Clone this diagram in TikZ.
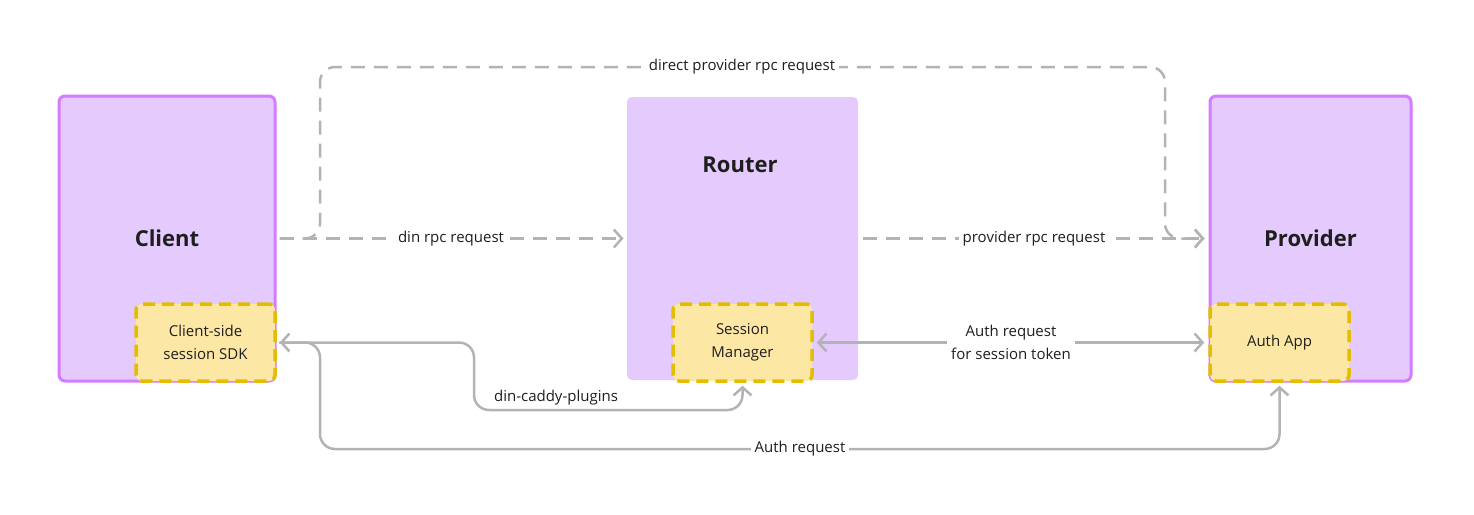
\documentclass[tikz,border=0pt]{standalone}
\usepackage{fontspec}
\setmainfont{Open Sans}
\usetikzlibrary{arrows.meta}

\definecolor{boxfill}{HTML}{E5CBFD}
\definecolor{boxedge}{HTML}{D47CFF}
\definecolor{subfill}{HTML}{FDE7A4}
\definecolor{subedge}{HTML}{E2BD00}
\definecolor{wire}{HTML}{B3B3B3}
\definecolor{ink}{HTML}{1E1E1E}

\begin{document}
\begin{tikzpicture}[x=1pt, y=-1pt,
    every node/.style={text=ink, font=\fontsize{15}{23}\selectfont},
    service/.style={draw=boxedge, line width=3pt, fill=boxfill, rounded corners=6pt,
        minimum width=216pt, minimum height=285pt, inner sep=0pt,
        font=\fontsize{22}{25}\selectfont\bfseries},
    plugin/.style={draw=subedge, line width=3.5pt, fill=subfill, rounded corners=6pt,
        dash pattern=on 12pt off 7pt, minimum width=139pt, minimum height=77pt,
        inner sep=0pt, align=center},
    wireline/.style={draw=wire, line width=2.5pt, line cap=round,
        arrows={-Straight Barb[length=8pt, width=18pt]}},
    dashline/.style={wireline, dash pattern=on 14pt off 9pt, line cap=butt},
    tag/.style={fill=white, inner sep=4pt}
]
    \useasboundingbox (0,0) rectangle (1474,514);

    % the three services
    \node[service] (client) at (167,238.5) {Client};
    \node[service, draw=none, minimum width=231pt, minimum height=283pt, rounded corners=5pt] (router) at (742.5,238.5) {};
    \node[font=\fontsize{22}{25}\selectfont\bfseries] (routertitle) at (740,165) {Router};
    \node[service, minimum width=201pt] (provider) at (1310.5,238.5) {Provider};

    % plugins inside them
    \node[plugin] (sdk) at (205.5,342.5) {Client-side\\session SDK};
    \node[plugin] (manager) at (742.5,342.5) {Session\\Manager};
    \node[plugin] (authapp) at (1279.5,342.5) {Auth App};

    % rpc traffic
    \draw[dashline, shorten <=3pt, shorten >=2pt] (client.east) -- (router.west)
        node[tag, midway] (dinrpc) {din rpc request};
    \draw[dashline, shorten <=3pt, shorten >=4pt] (router.east) -- (provider.west)
        node[tag, midway] (provrpc) {provider rpc request};
    \draw[dashline, rounded corners=15pt, shorten <=3pt, shorten >=4pt]
        (client.east) -| (320,67) -| (1165,238.5) -- (provider.west);
    \node[tag] (directrpc) at (742,67) {direct provider rpc request};

    % auth traffic
    \draw[wireline, arrows={Straight Barb[length=8pt, width=18pt]-Straight Barb[length=8pt, width=18pt]},
        shorten <=3pt, shorten >=4pt] (manager.east) -- (authapp.west)
        node[tag, midway, align=center] (tokenreq) {Auth request\\for session token};
    \draw[wireline, arrows={Straight Barb[length=8pt, width=18pt]-Straight Barb[length=8pt, width=18pt]},
        rounded corners=15pt, shorten <=3pt, shorten >=3pt]
        (sdk.east) -| (474,410) -| (manager.south);
    \node (caddy) at (556,398) {din-caddy-plugins};
    \draw[wireline, rounded corners=15pt, shorten <=3pt, shorten >=3pt]
        (sdk.east) -| (320,449) -| (authapp.south);
    \node[tag] (authreq) at (800,449) {Auth request};

\end{tikzpicture}
\end{document}
